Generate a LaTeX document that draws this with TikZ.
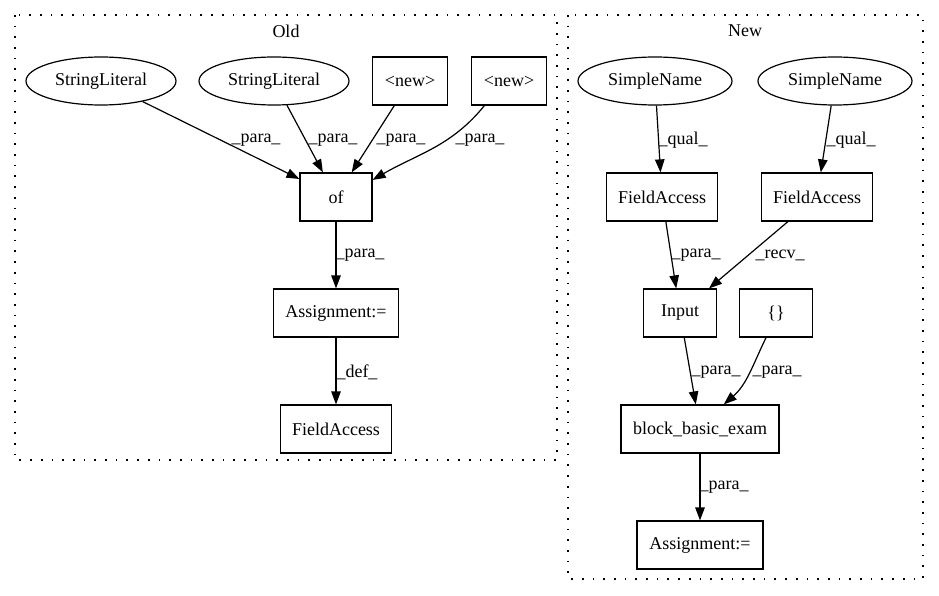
\documentclass[tikz,border=0pt]{standalone}
\usepackage{fontspec}
\setmainfont{Liberation Serif}
\usetikzlibrary{arrows.meta}
\usetikzlibrary{shapes.geometric}
\tikzset{box/.style={draw, rectangle, minimum height=48pt, inner sep=0pt, line width=1.2pt},
  oval/.style={draw, ellipse, minimum height=48pt, minimum width=150pt, inner sep=0pt, line width=1.2pt},
  lab/.style={inner sep=0pt},
  arr/.style={line width=1.2pt, -{Triangle[length=13pt,width=9.5pt]}},
  cluster/.style={line width=1.3pt, dash pattern=on 1.7pt off 9pt}}

\begin{document}
\begin{tikzpicture}[x=1pt, y=1pt, font=\fontsize{18}{21}\selectfont]
      \useasboundingbox (0,0) rectangle (939,-596);

      % the two clusters
      \draw [cluster] (15,-15) rectangle (557,-460);
      \draw [cluster] (568,-15) rectangle (923,-579);
      \node (oldtitle) at (286,-31) {Old};
      \node (newtitle) at (745,-31) {New};

      % Old
      \node [oval] (sl1) at (101,-81) {StringLiteral};
      \node [oval] (sl2) at (274,-81) {StringLiteral};
      \node [box, minimum width=75pt] (new1) at (410,-81) {<new>};
      \node [box, minimum width=75pt] (new2) at (509,-81) {<new>};
      \node [box, minimum width=72pt] (of) at (336,-197) {of};
      \node [box, minimum width=125pt] (asg1) at (336,-313) {Assignment:=};
      \node [box, minimum width=111pt] (fa0) at (336,-429) {FieldAccess};

      \draw [arr] (sl1) -- (of);
      \draw [arr] (sl2) -- (of);
      \draw [arr] (new1) -- (of);
      \draw [arr] (new2.-135) to[out=-129, in=30] (of.25);
      \draw [arr] (of) -- (asg1);
      \draw [arr] (asg1) -- (fa0);

      \node [lab] at (256,-140) {\_para\_};
      \node [lab] at (333,-140) {\_para\_};
      \node [lab] at (401,-140) {\_para\_};
      \node [lab] at (480,-140) {\_para\_};
      \node [lab] at (360,-255) {\_para\_};
      \node [lab] at (357,-372) {\_def\_};

      % New
      \node [oval, minimum width=154pt] (sn1) at (655,-81) {SimpleName};
      \node [oval, minimum width=154pt] (sn2) at (835,-81) {SimpleName};
      \node [box, minimum width=111pt] (fa1) at (662,-197) {FieldAccess};
      \node [box, minimum width=111pt] (fa2) at (817,-197) {FieldAccess};
      \node [box, minimum width=73pt] (input) at (680,-313) {Input};
      \node [box, minimum width=73pt] (brace) at (776,-313) {\{\}};
      \node [box, minimum width=158pt] (block) at (700,-429) {block\_basic\_exam};
      \node [box, minimum width=126pt] (asg2) at (700,-545) {Assignment:=};

      \draw [arr] (sn1) -- (fa1);
      \draw [arr] (sn2) -- (fa2);
      \draw [arr] (fa1) -- (input);
      \draw [arr] (fa2) -- (input);
      \draw [arr] (input) -- (block);
      \draw [arr] (brace.-112.6) to[out=-116, in=41] (block.46);
      \draw [arr] (block) -- (asg2);

      \node [lab] at (683,-140) {\_qual\_};
      \node [lab] at (851,-140) {\_qual\_};
      \node [lab] at (696,-255) {\_para\_};
      \node [lab] at (780,-255) {\_recv\_};
      \node [lab] at (716,-372) {\_para\_};
      \node [lab] at (777,-372) {\_para\_};
      \node [lab] at (724,-487) {\_para\_};
    \end{tikzpicture}
\end{document}
